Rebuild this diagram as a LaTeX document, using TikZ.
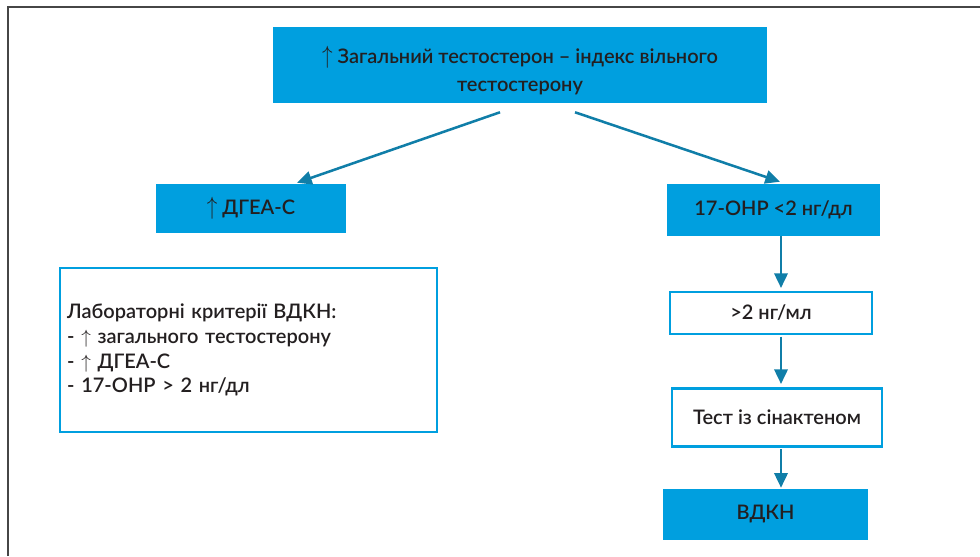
\documentclass[tikz,border=0pt]{standalone}
\usepackage{fontspec}
\setmainfont{Lato}[UprightFont=* Semibold]
\usepackage{xcolor}
\usepackage{tikz}
\usetikzlibrary{arrows.meta,positioning,calc}
\definecolor{boxcyan}{RGB}{0,159,223}
\definecolor{arrowteal}{RGB}{16,126,168}
\definecolor{textdark}{RGB}{35,31,32}
\definecolor{framegray}{RGB}{70,70,70}
\newcommand{\upar}{\scalebox{1.1}[1.3]{\(\uparrow\)}}
\tikzset{
  bluebox/.style={
    rectangle,
    draw=none,
    fill=boxcyan,
    align=center,
    inner sep=2pt,
    text=textdark,
    font=\fontsize{15}{21}\selectfont
  },
  whitebox/.style={
    rectangle,
    draw=boxcyan,
    line width=2pt,
    fill=white,
    align=center,
    inner sep=2pt,
    text=textdark,
    font=\fontsize{15}{18.6}\selectfont
  },
  flow/.style={-{Triangle[length=11pt,width=10pt]}, line width=1.9pt, arrowteal}
}

\begin{document}
\begin{tikzpicture}[x=0.75pt,y=-0.75pt]
\useasboundingbox (0,0) rectangle (980,556);
% frame
\draw[framegray, line width=1.5pt] (8,556) -- (8,7) -- (980,7);
% top box
\node[bluebox, minimum width=370.5pt, minimum height=57pt] (total) at (520,65)
  {\rule{0pt}{21pt}\upar\ Загальний тестостерон – індекс вільного\\тестостерону};
\node[bluebox, minimum width=142.5pt, minimum height=36.75pt] (dhea) at (251,208.5)
  {\upar\ ДГЕА-С};
\node[bluebox, minimum width=159.75pt, minimum height=39pt] (ohp) at (773.5,210)
  {17-OHP <2 нг/дл};
% criteria box
\node[whitebox, minimum width=282.75pt, minimum height=123pt, text width=272pt, align=left] (crit) at (248.5,350)
  {Лабораторні критерії ВДКН:\\
   - \(\uparrow\) загального тестостерону\\
   - \(\uparrow\) ДГЕА-С\\
   - 17-OHP > 2 нг/дл};
% right column
\node[whitebox, minimum width=151.5pt, minimum height=31.5pt] (gt2) at (771,313) {>2 нг/мл};
\node[whitebox, minimum width=157.5pt, minimum height=43.5pt, below=39pt of gt2.south, anchor=north, xshift=4.5pt] (test) {Тест із сінактеном};
\node[bluebox, minimum width=153.75pt, minimum height=38.25pt] (vdkn) at (765.5,514.5) {ВДКН};
\coordinate (col) at (781,0);
\draw[flow] ([xshift=-15pt,yshift=-6.75pt]total.south) -- ([xshift=34.5pt,yshift=0.75pt]dhea.north);
\draw[flow] ([xshift=41.25pt,yshift=-6.75pt]total.south) -- ([xshift=4.9pt,yshift=1.5pt]ohp.north);
\draw[flow] (ohp.south -| col) -- ([yshift=2pt]gt2.north -| col);
\draw[flow] ([yshift=-1pt]gt2.south -| col) -- ([yshift=2.5pt]test.north -| col);
\draw[flow] ([yshift=-1pt]test.south -| col) -- ([yshift=0.75pt]vdkn.north -| col);
\end{tikzpicture}
\end{document}
